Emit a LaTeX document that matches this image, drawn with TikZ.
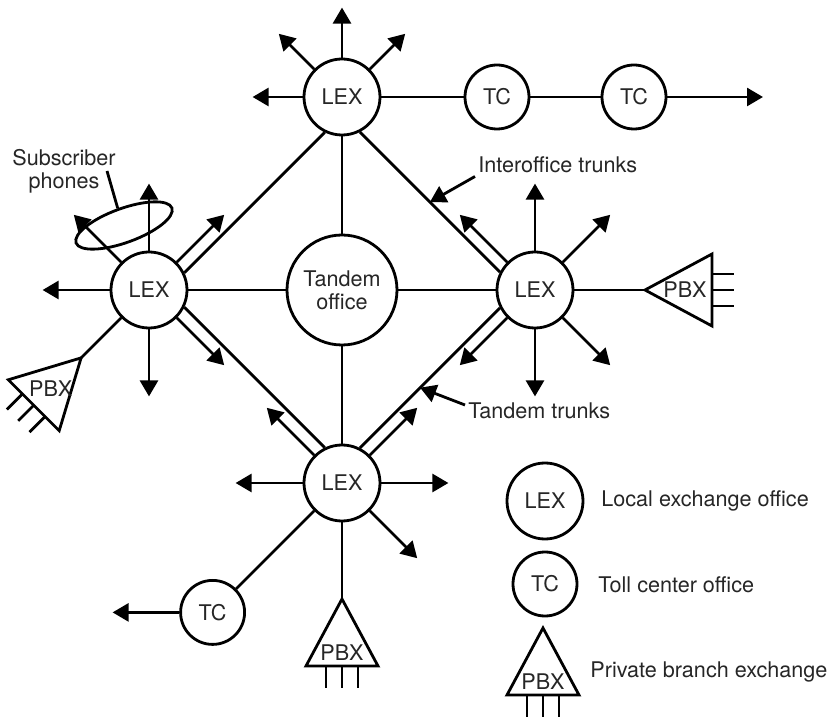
\documentclass[tikz,border=0pt]{standalone}
\usepackage{fontspec}
\setmainfont{TeX Gyre Heros}
\usetikzlibrary{positioning, arrows.meta, shapes.geometric, calc}

\tikzset{
  txt/.style={font=\fontsize{10.8}{11.5}\selectfont, text=black!85, inner sep=1pt, align=center},
  office/.style={draw, circle, txt, inner sep=0pt},
  lex/.style={office, minimum size=38pt},
  tc/.style={office, minimum size=32pt},
  pics/pbx/.style={code={
    \draw[line join=miter] (0,0) coordinate (-apex) -- (-36,-67) -- (36,-67) -- cycle;
    \foreach \legx in {-16,0,16} \draw (\legx,-67) -- (\legx,-89);
    \node[txt] at (0,-#1) {PBX};
  }}
}

\begin{document}
\begin{tikzpicture}[x=0.5pt, y=0.5pt, line width=1.4pt, >={Triangle[length=8pt, width=9pt]}, node distance=96.5pt]
  \useasboundingbox (-342,-427) rectangle (488,290);
  \node[office, minimum size=55pt] (tandem) at (0,0) {Tandem\\office};
  \node[lex] (lexT) [above of=tandem] {LEX};
  \node[lex] (lexL) [left of=tandem] {LEX};
  \node[lex] (lexR) [right of=tandem] {LEX};
  \node[lex] (lexB) [below of=tandem] {LEX};
  \node[tc] (tcA) [right of=lexT, node distance=77.5pt] {TC};
  \node[tc] (tcB) [right of=tcA, node distance=68.5pt] {TC};
  \node[tc] (tcL) at ($(lexB)+(225:183)$) {TC};

  % trunks
  \path (lexT) edge (tandem) (lexL) edge (tandem)
    (lexR) edge (tandem) (lexB) edge (tandem)
    (lexT) edge (tcA) (tcA) edge (tcB)
    (lexB) edge (tcL);
  \foreach \a/\p/\b/\q in {lexT/-63.4/lexR/153.4, lexR/-153.4/lexB/63.4,
      lexB/116.6/lexL/-26.6, lexL/26.6/lexT/-116.6}
    \draw (\a.\p) -- (\b.\q);
  \draw[->] (tcB) -- ++(129,0);
  \draw[->] (tcL) -- ++(-100,0);

  % lines out of each office
  \foreach \a in {180,135,90,45} \draw[->] (lexT.\a) -- ++(\a:50);
  \foreach \a in {180,135,90,45,-45,-90} \draw[->] (lexL.\a) -- ++(\a:67);
  \foreach \a in {135,90,45,-45,-90,-135} \draw[->] (lexR.\a) -- ++(\a:67);
  \foreach \a in {180,135,45,0,-45} \draw[->] (lexB.\a) -- ++(\a:67);

  % PBXs
  \pic[rotate=-45] (pbxL) at ($(lexL)+(225:96)$) {pbx=43};
  \pic[rotate=90] (pbxR) at ($(lexR)+(110,0)$) {pbx=40};
  \pic (pbxB) at ($(lexB)+(0,-116)$) {pbx=54};
  \path (lexL) edge (pbxL-apex) (lexR) edge (pbxR-apex) (lexB) edge (pbxB-apex);

  % labels
  \node[draw, ellipse, minimum width=51pt, minimum height=17pt, inner sep=0pt, rotate=20] (phones) at ($(lexL)+(-25,64.5)$) {};
  \node[txt] (phonesLbl) at ($(lexL)+(-85,119)$) {Subscriber\\phones};
  \draw ([xshift=-6pt]phonesLbl.east) -- (phones.north);
  \node[txt, anchor=west] (ioLbl) at (133,125) {Interoffice trunks};
  \coordinate (ioTip) at ($(lexT.-63.4)!0.5!(lexR.153.4)$);
  \draw[->] (ioLbl.south west) -- (ioTip);
  \node[txt, anchor=west] (ttLbl) at (123,-121) {Tandem trunks};
  \coordinate (ttTip) at ($(lexR.-153.4)!0.57!(lexB.63.4)$);
  \draw[->] ([yshift=3pt]ttLbl.west) -- (ttTip);

  % legend
  \node[lex] (lexLeg) at (203,-211) {LEX};
  \node[txt, anchor=west] (lexLegLbl) at (256,-211) {Local exchange office};
  \node[tc] (tcLeg) at (203,-294) {TC};
  \node[txt, anchor=west] (tcLegLbl) at (253,-295) {Toll center office};
  \pic (pbxLeg) at (201,-338) {pbx=54};
  \node[txt, anchor=west] (pbxLegLbl) at (245,-382) {Private branch exchange};
\end{tikzpicture}
\end{document}
